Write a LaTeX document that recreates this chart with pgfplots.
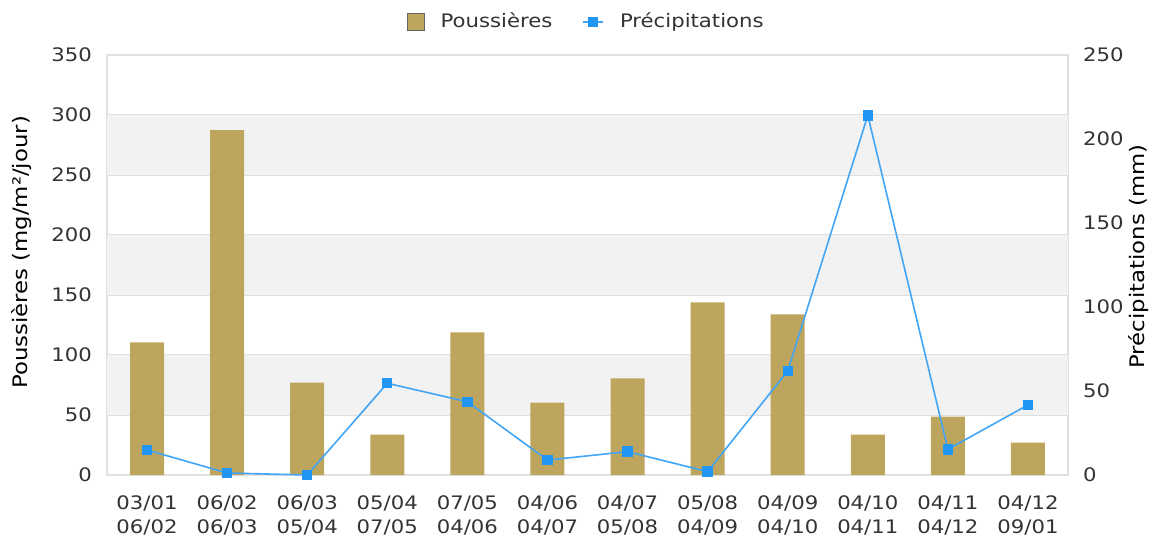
\documentclass[border=0pt]{standalone}
\usepackage{fontspec}
\setmainfont{DejaVu Sans}[FakeStretch=1.14]
\usepackage{pgfplots}
\usepackage{pgfplotstable}
\pgfplotsset{compat=1.18}
\definecolor{barcol}{HTML}{BDA55D}
\definecolor{linecol}{HTML}{42A5F5}
\definecolor{markcol}{HTML}{2196F3}
\definecolor{gridcol}{HTML}{E0E0E0}
\definecolor{bandcol}{HTML}{F2F2F2}
\definecolor{txtcol}{HTML}{333333}

\pgfplotstableread{
x dust rain
0 110.6 14.9
1 287.5 1.2
2 76.9 0.0
3 33.6 54.6
4 118.9 43.6
5 60.3 8.9
6 80.6 13.9
7 143.9 2.0
8 133.9 61.9
9 33.6 214.1
10 48.6 15.3
11 26.9 41.7
}\data

\pgfplotsset{
  set layers,
  common/.style={
    scale only axis, width=480.5pt, height=210pt,
    at={(0,0)}, anchor=south west,
    xmin=-0.5, xmax=11.5,
    /pgf/number format/assume math mode=true,
    ticklabel style={font=\fontsize{9.3}{11.7}\selectfont, text=txtcol},
    label style={font=\fontsize{9.9}{12}\selectfont, text=txtcol},
    major tick length=0pt, minor tick length=0pt,
    axis line style={gridcol, line width=0.7pt},
  },
  sqlegend/.style={legend image code/.code={\fill[barcol, draw=gray!80!black, line width=0.4pt] (0pt,-4.1pt) rectangle (8.2pt,4.1pt);}},
  linelegend/.style={legend image code/.code={\draw[mark repeat=2, mark phase=2, ##1] plot coordinates {(0pt,0pt) (5pt,0pt) (10pt,0pt)};}},
}

\begin{document}
\begin{tikzpicture}
\begin{axis}[common,
  ymin=0, ymax=350, ytick={0,50,...,350},
  xtick={0,...,11},
  xticklabels={{03/01\\06/02},{06/02\\06/03},{06/03\\05/04},{05/04\\07/05},{07/05\\04/06},{04/06\\04/07},{04/07\\05/08},{05/08\\04/09},{04/09\\04/10},{04/10\\04/11},{04/11\\04/12},{04/12\\09/01}},
  xticklabel style={align=center, anchor=north, yshift=-7pt},
  yticklabel style={xshift=-4pt},
  ymajorgrids, grid style={color=gridcol, line width=0.7pt},
  ylabel={Poussières (mg/m²/jour)},
  every axis y label/.style={at={(axis description cs:-0.0885,0.53)}, rotate=90, anchor=center},
  legend columns=2,
  legend style={draw=none, fill=none, at={(axis description cs:0.5,1.0786)}, anchor=center,
    font=\fontsize{9.3}{11}\selectfont, text=txtcol,
    /tikz/every odd column/.append style={column sep=6pt},
    /tikz/every even column/.append style={column sep=13pt}},
  legend cell align=left,
]
\fill[bandcol, on layer=axis background] (axis cs:-0.5,50) rectangle (axis cs:11.5,100);
\fill[bandcol, on layer=axis background] (axis cs:-0.5,150) rectangle (axis cs:11.5,200);
\fill[bandcol, on layer=axis background] (axis cs:-0.5,250) rectangle (axis cs:11.5,300);
\addplot[ybar, bar width=17pt, bar shift=0pt, fill=barcol, draw=none, sqlegend]
  table[x=x, y=dust] {\data};
\addlegendentry{Poussières}
\addlegendimage{color=linecol, line width=0.8pt, mark=square*, mark size=2.2pt,
  mark options={fill=markcol, draw=markcol}, linelegend}
\addlegendentry{Précipitations}
\end{axis}
\begin{axis}[common,
  axis y line*=right, axis x line=none,
  ymin=0, ymax=250, ytick={0,50,...,250},
  yticklabel style={xshift=4pt},
  ylabel={Précipitations (mm)},
  every axis y label/.style={at={(axis description cs:1.0739,0.52)}, rotate=90, anchor=center},
]
\addplot[color=linecol, line width=0.8pt, mark=square*, mark size=2.2pt,
  mark options={fill=markcol, draw=markcol}]
  table[x=x, y=rain] {\data};
\end{axis}
\pgfresetboundingbox
\useasboundingbox (-53.5pt,-34pt) rectangle (523.5pt,237.5pt);
\end{tikzpicture}
\end{document}
